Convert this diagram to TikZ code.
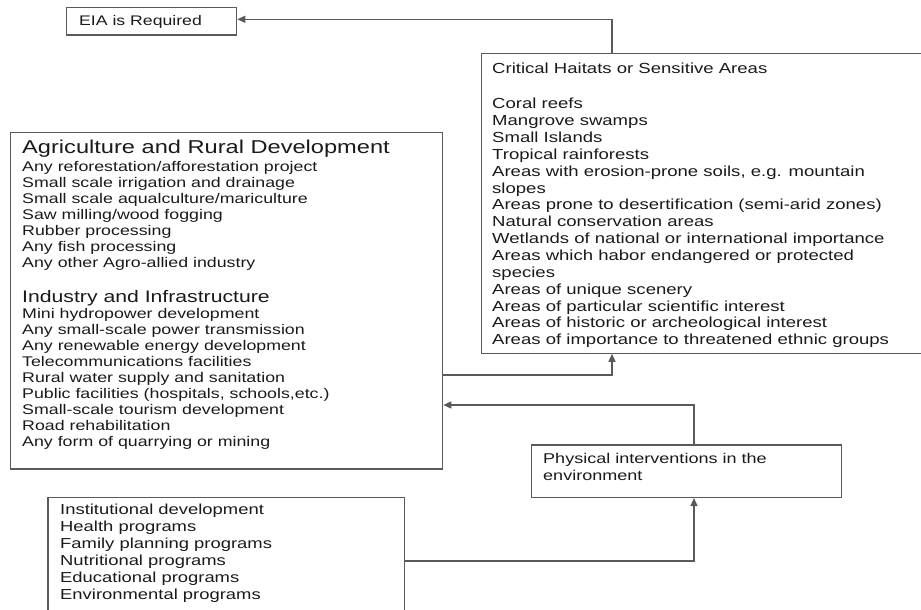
\documentclass[tikz,border=0pt]{standalone}
\usepackage{fontspec}
\setmainfont{Liberation Sans}
\newfontfamily\bodyfont[FakeStretch=1.27]{Liberation Sans}
\usetikzlibrary{arrows.meta}
\definecolor{edge}{HTML}{5A5A5A}
\definecolor{ink}{HTML}{1A1A1A}
\tikzset{
  box/.style={draw=edge, line width=1.3pt, fill=none, inner sep=0pt, anchor=north west},
  txt/.style={anchor=north west, inner sep=0pt, align=left, text=ink},
  conn/.style={draw=edge, line width=1.3pt, -{Triangle[length=8pt,width=7pt]}},
}
\newcommand{\fsz}[2]{\bodyfont\fontsize{#1}{#2}\selectfont}
\begin{document}
\begin{tikzpicture}[x=1pt,y=-1pt]
\useasboundingbox (0,0) rectangle (921,610);
\clip (0,0) rectangle (921,610);

% boxes
\node[box, minimum width=170pt, minimum height=27.3pt] (eia) at (66,7) {};
\node[box, minimum width=460pt, minimum height=299.5pt] (crit) at (480.5,53) {};
\node[box, minimum width=432pt, minimum height=336.3pt] (agri) at (10,132) {};
\node[box, minimum width=309.7pt, minimum height=52.4pt] (phys) at (531,444.3) {};
\node[box, minimum width=356.7pt, minimum height=140pt] (inst) at (47.3,496.7) {};

% texts
\node[txt, font=\fsz{13.9}{16}] (teia) at (79,15.7) {EIA is Required};

\node[txt, font=\fsz{14.6}{16.86}] (tcrith) at (492,63) {Critical Haitats or Sensitive Areas};
\node[txt, font=\fsz{14.6}{16.86}] (tcrit) at (492,98) {Coral reefs\\
Mangrove swamps\\
Small Islands\\
Tropical rainforests\\
Areas with erosion-prone soils, e.g. mountain\\
slopes\\
Areas prone to desertification (semi-arid zones)\\
Natural conservation areas\\
Wetlands of national or international importance\\
Areas which habor endangered or protected\\
species\\
Areas of unique scenery\\
Areas of particular scientific interest\\
Areas of historic or archeological interest\\
Areas of importance to threatened ethnic groups};

\node[txt, font=\fsz{18.6}{20}] (tagrih) at (22,140) {Agriculture and Rural Development};
\node[txt, font=\fsz{14}{16.1}] (tagri) at (22,160.7) {Any reforestation/afforestation project\\
Small scale irrigation and drainage\\
Small scale aqualculture/mariculture\\
Saw milling/wood fogging\\
Rubber processing\\
Any fish processing\\
Any other Agro-allied industry};
\node[txt, font=\fsz{16.7}{18}] (tindh) at (22,290) {Industry and Infrastructure};
\node[txt, font=\fsz{14}{16.1}] (tind) at (22,307.7) {Mini hydropower development\\
Any small-scale power transmission\\
Any renewable energy development\\
Telecommunications facilities\\
Rural water supply and sanitation\\
Public facilities (hospitals, schools,etc.)\\
Small-scale tourism development\\
Road rehabilitation\\
Any form of quarrying or mining};

\node[txt, font=\fsz{14.2}{16.7}] (tphys) at (543,453.2) {Physical interventions in the\\
environment};

\node[txt, font=\fsz{14.5}{16.94}] (tinst) at (60,504) {Institutional development\\
Health programs\\
Family planning programs\\
Nutritional programs\\
Educational programs\\
Environmental programs};

% routing points
\coordinate (ra) at (612,19.3);
\coordinate (rb) at (612,375);
\coordinate (rc) at (694,405);
\coordinate (rd) at (694,561);

% connectors
\draw[conn] (crit.north -| ra) -- (ra) -- (eia.east |- ra);
\draw[conn] (agri.east |- rb) -| (crit.south -| rb);
\draw[conn] (phys.north -| rc) |- (agri.east |- rc);
\draw[conn] (inst.east |- rd) -| (phys.south -| rd);
\end{tikzpicture}
\end{document}
